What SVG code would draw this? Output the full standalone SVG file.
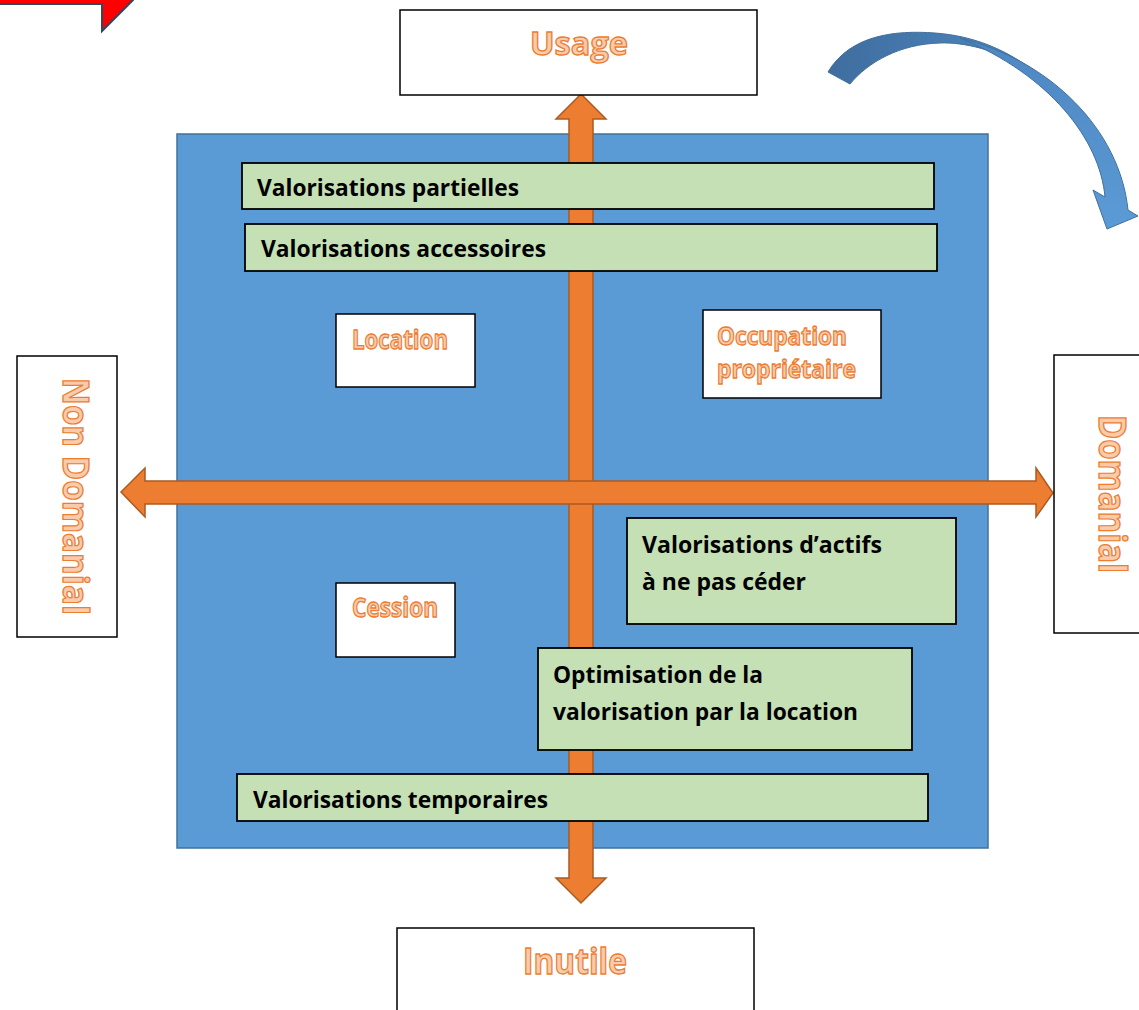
<svg xmlns="http://www.w3.org/2000/svg" width="1139" height="1010" viewBox="0 0 1139 1010">
  <defs>
    <style>
      .frame { fill: #ffffff; stroke: #000000; stroke-width: 1.5; }
      .green { fill: #C5E0B4; stroke: #000000; stroke-width: 1.8; }
      .axis { fill: #ED7D31; stroke: #AE5A21; stroke-width: 1.5; stroke-linejoin: miter; }
      .lbl { font-family: "Open Sans", "Liberation Sans", sans-serif; font-weight: 700; fill: #000000; font-size: 24px; }
      .pole { font-family: "Open Sans", "Liberation Sans", sans-serif; font-weight: 700; fill: #F8CBAD; stroke: #ED7D31; stroke-width: 1.3; }
    </style>
    <linearGradient id="arcBack" x1="0" y1="0" x2="1" y2="0">
      <stop offset="0" stop-color="#3F6D9E"/>
      <stop offset="1" stop-color="#4E86C2"/>
    </linearGradient>
    <linearGradient id="arcFront" x1="0" y1="0" x2="0" y2="1">
      <stop offset="0" stop-color="#4E86C2"/>
      <stop offset="1" stop-color="#5B9BD5"/>
    </linearGradient>
  </defs>

  <!-- red bent arrow fragment, top-left corner -->
  <path d="M -5 -10 L -5 4 L 102 4 L 102 31 L 133 0 L 133 -10 Z" fill="#FF0000" stroke="#2E4A62" stroke-width="2"/>

  <!-- curved blue arrow, top-right -->
  <g id="curved-arrow">
    <path d="M 828 72 C 850 35 895 30 935 33 C 975 36 1005 50 1030 68 C 995 50 965 42 940 43 C 900 44 868 62 850 84 Z" fill="url(#arcBack)" stroke="#41719C" stroke-width="1"/>
    <path d="M 960 38 C 1050 60 1120 130 1128 210 L 1138 216 L 1107 229 L 1093 190 L 1105 197 C 1100 140 1050 75 960 38 Z" fill="url(#arcFront)" stroke="#41719C" stroke-width="1"/>
  </g>

  <!-- quadrant background -->
  <rect id="field" x="177" y="134" width="811" height="714" fill="#5B9BD5" stroke="#41719C" stroke-width="1.5"/>

  <!-- axes -->
  <g id="connectors">
    <polygon class="axis" points="581,94 606,119 593,119 593,878 606,878 581,903 556,878 569,878 569,119 556,119"/>
    <polygon class="axis" points="121,492 145,468 145,481 1036,481 1036,468 1053,493 1036,517 1036,504 145,504 145,517"/>
  </g>

  <!-- pole boxes -->
  <g id="usage">
    <rect class="frame" x="400" y="10" width="357" height="85"/>
    <text class="pole" x="530" y="55" font-size="32" textLength="98" lengthAdjust="spacingAndGlyphs">Usage</text>
  </g>
  <g id="inutile">
    <rect class="frame" x="397" y="928" width="357" height="100"/>
    <text class="pole" x="523" y="974" font-size="35" textLength="104" lengthAdjust="spacingAndGlyphs">Inutile</text>
  </g>
  <g id="non-domanial">
    <rect class="frame" x="17" y="356" width="100" height="281"/>
    <text class="pole" transform="translate(63,378) rotate(90)" x="0" y="0" font-size="36" textLength="237" lengthAdjust="spacingAndGlyphs">Non Domanial</text>
  </g>
  <g id="domanial">
    <rect class="frame" x="1054" y="355" width="100" height="278"/>
    <text class="pole" transform="translate(1099,415) rotate(90)" x="0" y="0" font-size="37" textLength="158" lengthAdjust="spacingAndGlyphs">Domanial</text>
  </g>

  <!-- horizontal bands -->
  <g id="valorisations-partielles">
    <rect class="green" x="242" y="163" width="692" height="46"/>
    <text class="lbl" x="257" y="196" textLength="262" lengthAdjust="spacingAndGlyphs">Valorisations partielles</text>
  </g>
  <g id="valorisations-accessoires">
    <rect class="green" x="245" y="224" width="692" height="47"/>
    <text class="lbl" x="261" y="257" textLength="285" lengthAdjust="spacingAndGlyphs">Valorisations accessoires</text>
  </g>
  <g id="valorisations-temporaires">
    <rect class="green" x="237" y="774" width="691" height="47"/>
    <text class="lbl" x="253" y="808" textLength="295" lengthAdjust="spacingAndGlyphs">Valorisations temporaires</text>
  </g>

  <!-- quadrant boxes -->
  <g id="valorisations-actifs">
    <rect class="green" x="627" y="518" width="329" height="106"/>
    <text class="lbl" x="642" y="553" textLength="240" lengthAdjust="spacingAndGlyphs">Valorisations d’actifs</text>
    <text class="lbl" x="642" y="590" textLength="164" lengthAdjust="spacingAndGlyphs">à ne pas céder</text>
  </g>
  <g id="optimisation">
    <rect class="green" x="538" y="648" width="374" height="102"/>
    <text class="lbl" x="553" y="683" textLength="210" lengthAdjust="spacingAndGlyphs">Optimisation de la</text>
    <text class="lbl" x="553" y="720" textLength="305" lengthAdjust="spacingAndGlyphs">valorisation par la location</text>
  </g>

  <g id="location">
    <rect class="frame" x="336" y="314" width="139" height="73"/>
    <text class="pole" x="352" y="349" font-size="27" textLength="96" lengthAdjust="spacingAndGlyphs">Location</text>
  </g>
  <g id="occupation">
    <rect class="frame" x="703" y="310" width="178" height="88"/>
    <text class="pole" x="717" y="345" font-size="25" textLength="130" lengthAdjust="spacingAndGlyphs">Occupation</text>
    <text class="pole" x="717" y="378" font-size="25" textLength="139" lengthAdjust="spacingAndGlyphs">propriétaire</text>
  </g>
  <g id="cession">
    <rect class="frame" x="336" y="583" width="119" height="74"/>
    <text class="pole" x="352" y="617" font-size="26" textLength="86" lengthAdjust="spacingAndGlyphs">Cession</text>
  </g>
</svg>
